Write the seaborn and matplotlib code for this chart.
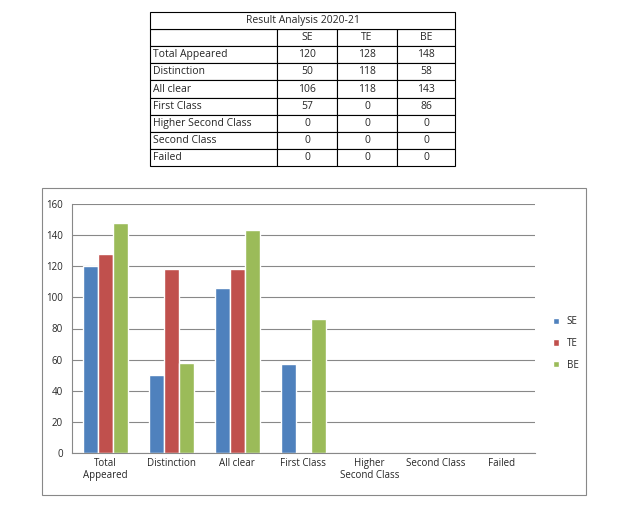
import matplotlib
matplotlib.use("Agg")
import matplotlib.pyplot as plt
import seaborn as sns
import pandas as pd
from matplotlib.patches import Rectangle

categories = ["Total Appeared", "Distinction", "All clear", "First Class",
              "Higher Second Class", "Second Class", "Failed"]
tick_labels = ["Total\nAppeared", "Distinction", "All clear", "First Class",
               "Higher\nSecond Class", "Second Class", "Failed"]
series = ["SE", "TE", "BE"]
se = [120, 50, 106, 57, 0, 0, 0]
te = [128, 118, 118, 0, 0, 0, 0]
be = [148, 58, 143, 86, 0, 0, 0]
colors = ["#4F81BD", "#C0504D", "#9BBB59"]

sns.set_style("white")
plt.rcParams['font.family'] = ['Open Sans', 'DejaVu Sans']

rows = []
for name, vals in zip(series, [se, te, be]):
    for c, v in zip(categories, vals):
        rows.append({"cat": c, "series": name, "val": v})
df = pd.DataFrame(rows)

fig = plt.figure(figsize=(6.32, 5.13), dpi=100)
W, H = 632, 513
def fx(x): return x / W
def fy(y): return 1 - y / H

# Table
tab_ax = fig.add_axes([fx(150), fy(166), fx(455) - fx(150), fy(12) - fy(166)])
tab_ax.axis("off")
cell_text = [["", "SE", "TE", "BE"]] + [[c, str(a), str(b), str(d)]
                                        for c, a, b, d in zip(categories, se, te, be)]
nrows = len(cell_text) + 1
t = tab_ax.table(cellText=cell_text, colWidths=[127, 60, 60, 58],
                 bbox=[0, 0, 1, (nrows - 1) / nrows], cellLoc="center")
t.auto_set_font_size(False)
t.set_fontsize(7.5)
for (r, c), cell in t.get_celld().items():
    cell.set_linewidth(0.8)
    if c == 0:
        cell.set_text_props(ha="left")
        cell._loc = "left"
        cell.PAD = 0.02
tt = tab_ax.table(cellText=[["Result Analysis 2020-21"]], colWidths=[1],
                  bbox=[0, (nrows - 1) / nrows, 1, 1 / nrows], cellLoc="center")
tt.auto_set_font_size(False)
tt.set_fontsize(7.5)
for cell in tt.get_celld().values():
    cell.set_linewidth(0.8)

# Outer chart border
fig.add_artist(Rectangle((fx(42), fy(495)), fx(586) - fx(42), fy(188) - fy(495),
                         transform=fig.transFigure, fill=False, edgecolor="#888888", lw=0.8))

ax = fig.add_axes([fx(72), fy(453), fx(535) - fx(72), fy(204) - fy(453)])
sns.barplot(data=df, x="cat", y="val", hue="series", palette=colors, ax=ax,
            width=0.68, gap=0, saturation=1, order=categories, hue_order=series)
ax.set_ylim(0, 160)
ax.set_yticks(range(0, 161, 20))
ax.grid(axis="y", color="#888888", lw=0.8)
ax.set_axisbelow(True)
for s in ["top", "right"]:
    ax.spines[s].set_visible(False)
for s in ["left", "bottom"]:
    ax.spines[s].set_color("#888888")
    ax.spines[s].set_linewidth(0.8)
ax.set_xticks(range(7))
ax.set_xticklabels(tick_labels, fontsize=7)
ax.tick_params(axis="y", labelsize=7, length=3, color="#888888")
ax.tick_params(axis="x", length=0)
ax.set_xlabel("")
ax.set_ylabel("")
ax.legend(loc="center left", bbox_to_anchor=(1.02, 0.44), frameon=False,
          fontsize=7, handlelength=0.6, handleheight=0.6, labelspacing=1.1)

fig.savefig("out.png", dpi=100)
